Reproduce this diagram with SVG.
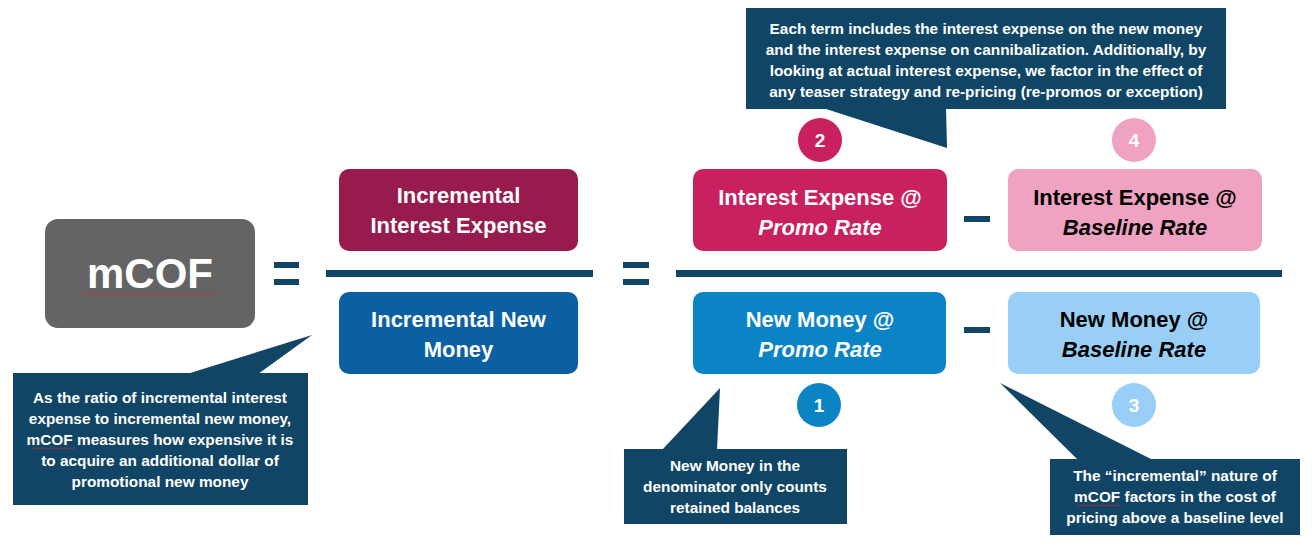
<svg xmlns="http://www.w3.org/2000/svg" width="1312" height="547" viewBox="0 0 1312 547">
<style>
  text { font-family: "Liberation Sans", Arial, sans-serif; font-weight: bold; text-anchor: middle; }
  .box { font-size: 22px; fill: #ffffff; }
  .dark { fill: #000000; }
  .it { font-style: italic; }
  .call { fill: #104565; }
  .ct { font-size: 15.4px; fill: #ffffff; }
  .num { font-size: 19px; fill: #ffffff; }
  .bar { fill: #104565; }
</style>
<defs>
  <pattern id="squig" width="4" height="3" patternUnits="userSpaceOnUse">
    <path d="M0 2.5 L2 0.5 L4 2.5" stroke="#d22" stroke-width="0.8" fill="none"/>
  </pattern>
</defs>
<rect width="1312" height="547" fill="#ffffff"/>

<g id="connectors">
  <rect class="bar" x="274" y="262" width="25" height="6"/>
  <rect class="bar" x="274" y="279" width="25" height="6"/>
  <rect class="bar" x="326" y="270" width="267" height="7"/>
  <rect class="bar" x="623" y="262" width="26" height="6"/>
  <rect class="bar" x="623" y="279" width="26" height="6"/>
  <rect class="bar" x="676" y="270" width="606" height="7"/>
  <rect class="bar" x="964" y="216" width="26" height="6"/>
  <rect class="bar" x="964" y="327" width="26" height="6"/>
</g>

<g id="mcof">
  <rect x="45" y="219" width="210" height="109" rx="13" fill="#646464"/>
  <text x="150" y="288" style="font-size:42px" fill="#ffffff">mCOF</text>
  <rect x="82" y="292" width="134" height="3" fill="url(#squig)"/>
</g>

<g id="inc-interest">
  <rect x="339" y="169" width="239" height="82" rx="10" fill="#981B4D"/>
  <text class="box" x="458.5" y="203">Incremental</text>
  <text class="box" x="458.5" y="233">Interest Expense</text>
</g>

<g id="inc-money">
  <rect x="339" y="292" width="239" height="82" rx="10" fill="#0B5FA3"/>
  <text class="box" x="458.5" y="327">Incremental New</text>
  <text class="box" x="458.5" y="357">Money</text>
</g>

<g id="ie-promo">
  <rect x="693" y="169" width="254" height="82" rx="10" fill="#C9215F"/>
  <text class="box" x="820" y="205">Interest Expense @</text>
  <text class="box it" x="820" y="235">Promo Rate</text>
</g>

<g id="ie-baseline">
  <rect x="1008" y="169" width="254" height="82" rx="10" fill="#F0A2C2"/>
  <text class="box dark" x="1135" y="205">Interest Expense @</text>
  <text class="box dark it" x="1135" y="235">Baseline Rate</text>
</g>

<g id="nm-promo">
  <rect x="693" y="292" width="253" height="82" rx="10" fill="#0B84C6"/>
  <text class="box" x="820" y="327">New Money @</text>
  <text class="box it" x="820" y="357">Promo Rate</text>
</g>

<g id="nm-baseline">
  <rect x="1008" y="292" width="252" height="82" rx="10" fill="#99CFF6"/>
  <text class="box dark" x="1134" y="327">New Money @</text>
  <text class="box dark it" x="1134" y="357">Baseline Rate</text>
</g>

<g id="num2">
  <circle cx="820" cy="140" r="22" fill="#C9215F"/>
  <text class="num" x="820" y="147">2</text>
</g>
<g id="num4">
  <circle cx="1134" cy="140" r="22" fill="#F0A2C2"/>
  <text class="num dark" x="1134" y="147">4</text>
</g>
<g id="num1">
  <circle cx="819" cy="405" r="22" fill="#0B84C6"/>
  <text class="num" x="819" y="412">1</text>
</g>
<g id="num3">
  <circle cx="1134" cy="405" r="22" fill="#99CFF6"/>
  <text class="num dark" x="1134" y="412">3</text>
</g>

<g id="callout-top">
  <rect class="call" x="746" y="8" width="480" height="101"/>
  <polygon class="call" points="823,108 946,108 947,148"/>
  <text class="ct" x="986" y="34">Each term includes the interest expense on the new money</text>
  <text class="ct" x="986" y="55">and the interest expense on cannibalization. Additionally, by</text>
  <text class="ct" x="986" y="76">looking at actual interest expense, we factor in the effect of</text>
  <text class="ct" x="986" y="97">any teaser strategy and re-pricing (re-promos or exception)</text>
</g>

<g id="callout-left">
  <rect class="call" x="13" y="373" width="295" height="132"/>
  <polygon class="call" points="187,374 312,335 258,374"/>
  <text class="ct" x="160" y="403">As the ratio of incremental interest</text>
  <text class="ct" x="160" y="424">expense to incremental new money,</text>
  <text class="ct" x="160" y="445">mCOF measures how expensive it is</text>
  <text class="ct" x="160" y="466">to acquire an additional dollar of</text>
  <text class="ct" x="160" y="487">promotional new money</text>
  <rect x="32" y="447" width="43" height="3" fill="url(#squig)"/>
</g>

<g id="callout-mid">
  <rect class="call" x="624" y="449" width="223" height="75"/>
  <polygon class="call" points="662,450 717,450 720,388"/>
  <text class="ct" x="735" y="471">New Money in the</text>
  <text class="ct" x="735" y="492">denominator only counts</text>
  <text class="ct" x="735" y="513">retained balances</text>
</g>

<g id="callout-right">
  <rect class="call" x="1050" y="459" width="250" height="76"/>
  <polygon class="call" points="1000,383 1153,460 1078,460"/>
  <text class="ct" x="1175" y="481">The “incremental” nature of</text>
  <text class="ct" x="1175" y="502">mCOF factors in the cost of</text>
  <text class="ct" x="1175" y="523">pricing above a baseline level</text>
  <rect x="1077" y="504" width="44" height="3" fill="url(#squig)"/>
</g>
</svg>
